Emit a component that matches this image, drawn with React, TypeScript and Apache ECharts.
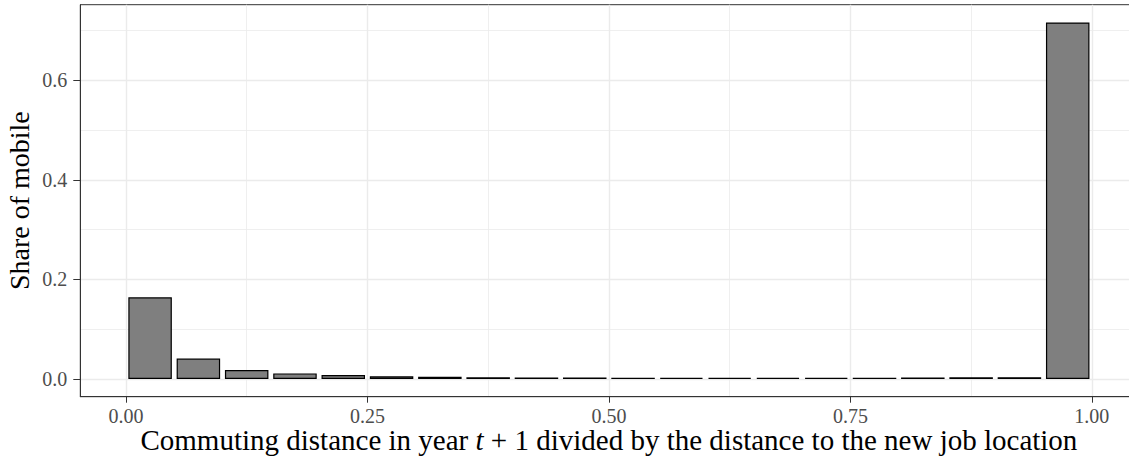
import React, { useEffect, useRef } from "react";
import * as echarts from "echarts";

// Bin centres of the commuting-distance ratio (bins of width 0.05)
const binCenters = [
  0.025, 0.075, 0.125, 0.175, 0.225, 0.275, 0.325, 0.375, 0.425, 0.475,
  0.525, 0.575, 0.625, 0.675, 0.725, 0.775, 0.825, 0.875, 0.925, 0.975,
];
// Share of mobile workers per bin
const shares = [
  0.164, 0.0408, 0.018, 0.011, 0.0077, 0.0052, 0.0044, 0.0031, 0.0028, 0.0026,
  0.0025, 0.0024, 0.0024, 0.0024, 0.0024, 0.0025, 0.0026, 0.0032, 0.0034, 0.7165,
];
const xMajorTicks = [0, 0.25, 0.5, 0.75, 1];
const xMinorTicks = [0.125, 0.375, 0.625, 0.875];
const yMajorTicks = [0, 0.2, 0.4, 0.6];
const yMinorTicks = [0.1, 0.3, 0.5, 0.7];

const xTitle = "Commuting distance in year {it|t} + 1 divided by the distance to the new job location";
const yTitle = "Share of mobile";

const FONT = "Liberation Serif";

export default function App() {
  const ref = useRef<HTMLDivElement>(null);
  useEffect(() => {
    if (!ref.current) return;
    const chart = echarts.init(ref.current, null, { renderer: "svg" });
    const xMin = -0.04725;
    const xMax = 1.04725;
    const yMin = -0.035825;
    const yMax = 0.752325;
    const data = binCenters.map((c, i) => [c, shares[i]]);
    chart.setOption({
      animation: false,
      backgroundColor: "#ffffff",
      grid: {
        left: 80.3,
        top: 4.7,
        bottom: 60.3,
        right: -8.5,
        containLabel: false,
        outerBoundsMode: "none",
        show: true,
        borderColor: "#333333",
        borderWidth: 1,
        backgroundColor: "transparent",
      },
      xAxis: [
        {
          type: "value",
          min: xMin,
          max: xMax,
          name: xTitle,
          nameLocation: "middle",
          nameGap: 29,
          nameMoveOverlap: false,
          nameTextStyle: {
            fontFamily: FONT,
            fontSize: 29,
            lineHeight: 29,
            color: "#000000",
            rich: {
              it: { fontFamily: FONT, fontSize: 29, lineHeight: 29, fontStyle: "italic", color: "#000000" },
            },
          },
          axisLine: { show: true, onZero: false, lineStyle: { color: "#333333", width: 1 } },
          axisTick: { show: true, length: 6, customValues: xMajorTicks, lineStyle: { color: "#333333", width: 1 } },
          axisLabel: {
            show: true,
            customValues: xMajorTicks,
            margin: 9,
            fontFamily: FONT,
            fontSize: 20,
            lineHeight: 20,
            color: "#4D4D4D",
            formatter: (v: number) => v.toFixed(2),
          },
          splitLine: { show: true, lineStyle: { color: "#EBEBEB", width: 1.4 } },
        },
        {
          type: "value",
          min: xMin,
          max: xMax,
          position: "bottom",
          axisLine: { show: false },
          axisTick: { show: false, customValues: xMinorTicks },
          axisLabel: { show: false, customValues: xMinorTicks },
          splitLine: { show: true, lineStyle: { color: "#EBEBEB", width: 0.8 } },
        },
      ],
      yAxis: [
        {
          type: "value",
          min: yMin,
          max: yMax,
          name: yTitle,
          nameLocation: "middle",
          nameGap: 47,
          nameMoveOverlap: false,
          nameRotate: 90,
          nameTextStyle: { fontFamily: FONT, fontSize: 28, color: "#000000" },
          axisLine: { show: true, onZero: false, lineStyle: { color: "#333333", width: 1 } },
          axisTick: { show: true, length: 7, customValues: yMajorTicks, lineStyle: { color: "#333333", width: 1 } },
          axisLabel: {
            show: true,
            customValues: yMajorTicks,
            margin: 13,
            fontFamily: FONT,
            fontSize: 20,
            color: "#4D4D4D",
            formatter: (v: number) => v.toFixed(1),
          },
          splitLine: { show: true, lineStyle: { color: "#EBEBEB", width: 1.4 } },
        },
        {
          type: "value",
          min: yMin,
          max: yMax,
          position: "left",
          axisLine: { show: false },
          axisTick: { show: false, customValues: yMinorTicks },
          axisLabel: { show: false, customValues: yMinorTicks },
          splitLine: { show: true, lineStyle: { color: "#EBEBEB", width: 0.8 } },
        },
      ],
      series: [
        {
          type: "bar",
          xAxisIndex: 0,
          yAxisIndex: 0,
          data,
          barWidth: 43.5,
          z: 3,
          itemStyle: { color: "#7F7F7F", borderColor: "#000000", borderWidth: 1.2 },
          emphasis: { disabled: true },
        },
      ],
    });
    return () => chart.dispose();
  }, []);
  return (
    <div
      ref={ref}
      style={{ position: "absolute", left: 0, top: 0, width: 1129, height: 457, background: "#fff" }}
    />
  );
}
